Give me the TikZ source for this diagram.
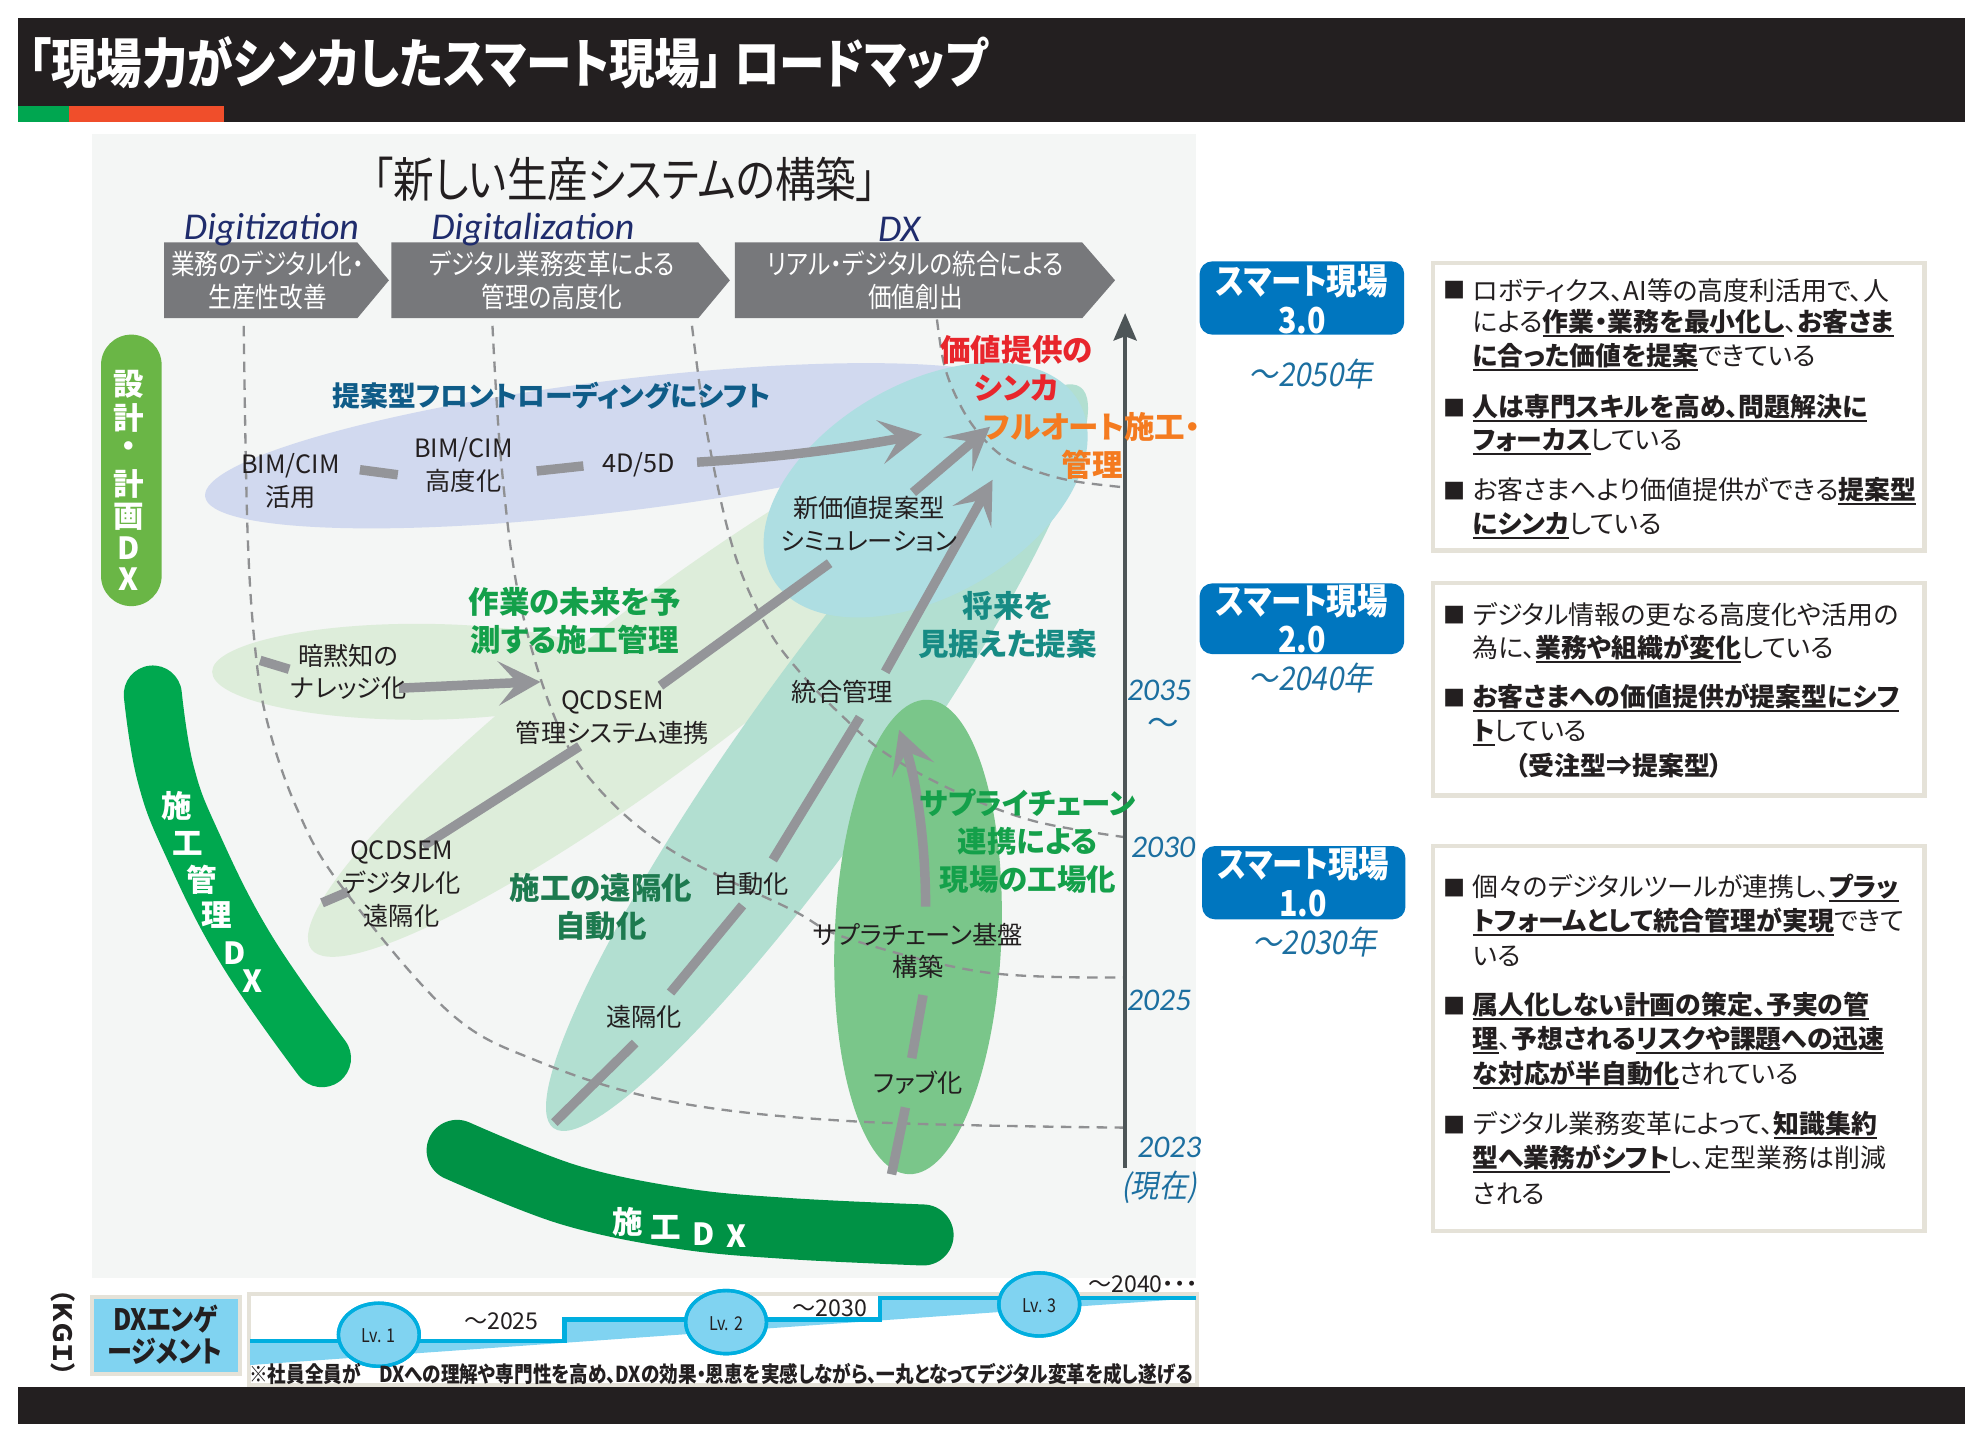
\documentclass[tikz,border=0pt]{standalone}
\usepackage{fontspec}
\setmainfont{Noto Sans CJK JP}[RawFeature={+palt}]
\newfontfamily\jpc{Noto Sans CJK JP}[FakeStretch=0.85,RawFeature={+palt}]
\newfontfamily\jpit{Noto Sans CJK JP}[FakeSlant=0.18,FakeStretch=0.9,RawFeature={+palt}]
\newfontfamily\carl{Carlito}
\usetikzlibrary{arrows.meta}
\definecolor{ink}{HTML}{231F20}
\definecolor{hgreen}{HTML}{00A650}
\definecolor{horange}{HTML}{F04E2B}
\definecolor{panel}{HTML}{F4F6F5}
\definecolor{chev}{HTML}{77787B}
\definecolor{navy}{HTML}{1F2C6C}
\definecolor{dashc}{HTML}{8F9092}
\definecolor{agray}{HTML}{949599}
\definecolor{elblue}{HTML}{D1D9EF}
\definecolor{elteal}{HTML}{AEDEE2}
\definecolor{elmint}{HTML}{B2DFD1}
\definecolor{ellg}{HTML}{DDEDDA}
\definecolor{eldg}{HTML}{7AC68A}
\definecolor{gA}{HTML}{6AB646}
\definecolor{gB}{HTML}{00A84F}
\definecolor{gC}{HTML}{009245}
\definecolor{lblue}{HTML}{0F5C88}
\definecolor{lred}{HTML}{E8262C}
\definecolor{lorange}{HTML}{F47B20}
\definecolor{lgreen}{HTML}{14A04A}
\definecolor{lteal}{HTML}{178B84}
\definecolor{ldg}{HTML}{1D7A4F}
\definecolor{yblue}{HTML}{1C6FA0}
\definecolor{sblue}{HTML}{0076BF}
\definecolor{beige}{HTML}{E5E2D8}
\definecolor{cyanA}{HTML}{00AEDF}
\definecolor{cyanB}{HTML}{80D3F1}
\definecolor{axisc}{HTML}{4D5557}
\newcommand\myul[1]{\sbox0{#1}\rlap{\usebox0}\rule[-2.6pt]{\wd0}{0.9pt}}
\newcommand\BU[1]{\myul{\bfseries #1}}
\tikzset{
  lbl/.style={font=\fontsize{12}{15.6}\selectfont, text=ink, align=center, inner sep=0pt},
  clbl/.style={font=\fontsize{14.5}{18}\selectfont\bfseries, align=center, inner sep=0pt},
  boxtxt/.style={font=\jpc\fontsize{13.2}{15.6}\selectfont, text=white, align=center, inner sep=0pt},
  digi/.style={font=\carl\itshape\fontsize{18}{20}\selectfont, text=navy, inner sep=0pt},
  yr/.style={font=\carl\itshape\fontsize{15}{17}\selectfont, text=yblue, inner sep=0pt},
  yrj/.style={font=\jpit\fontsize{15}{17}\selectfont, text=yblue, inner sep=0pt},
  rt/.style={anchor=west, inner sep=0pt, font=\fontsize{12.3}{14}\selectfont, text=ink},
  bul/.style={anchor=west, inner sep=0pt, font=\fontsize{10.5}{12}\selectfont, text=ink},
  wch/.style={font=\fontsize{14.5}{15}\selectfont\bfseries, text=white, inner sep=0pt},
  dcurve/.style={draw=dashc, line width=1.1pt, dash pattern=on 5pt off 3.5pt},
  gseg/.style={draw=agray, line width=4.5pt},
  garrow/.style={draw=agray, line width=4.5pt, -{Stealth[length=20pt,width=21pt,inset=9pt]}},
  smart/.style={fill=sblue, rounded corners=6pt},
  smtxt/.style={font=\jpc\bfseries\fontsize{17}{18.5}\selectfont, text=white, align=center, inner sep=0pt},
  tbox/.style={draw=beige, line width=2pt, fill=white},
  lv/.style={fill=cyanB, draw=cyanA, line width=1.6pt},
  lvt/.style={font=\jpc\fontsize{9}{10}\selectfont, text=ink, inner sep=0pt},
  tilde/.style={font=\fontsize{11}{12}\selectfont, text=ink, inner sep=0pt}
}
\begin{document}
\begin{tikzpicture}[x=0.6pt,y=-0.6pt]
\useasboundingbox (0,0) rectangle (1568,1134);
\fill[white] (0,0) rectangle (1568,1134);
% header
\fill[ink] (14,14) rectangle (1556,97);
\fill[hgreen] (14,84) rectangle (55,97);
\fill[horange] (55,84) rectangle (177,97);
\node[anchor=west, inner sep=0pt, text=white, font=\jpc\bfseries\fontsize{25.5}{28}\selectfont] (title) at (22,50) {「現場力がシンカしたスマート現場」 ロードマップ};
% panel
\fill[panel] (73,106) rectangle (947,1012);
\node[font=\jpc\fontsize{22.7}{25}\selectfont, text=ink, inner sep=0pt] (ptitle) at (495,142) {「新しい生産システムの構築」};
% ellipses
\fill[elblue, rotate around={7:(490,353)}] (490,353) ellipse [x radius=330, y radius=52];
\fill[ellg, rotate around={37:(530,538)}] (530,538) ellipse [x radius=355, y radius=64];
\fill[ellg] (330,532) ellipse [x radius=162, y radius=38];
\fill[elmint, rotate around={54.6:(647,600)}] (647,600) ellipse [x radius=360, y radius=62];
\fill[elteal, rotate around={30:(733,388)}] (733,388) ellipse [x radius=140, y radius=84];
\fill[eldg, rotate around={-2.3:(727,742)}] (727,742) ellipse [x radius=66, y radius=188];
% chevrons
\fill[chev] (130,192) -- (283,192) -- (308,222) -- (283,252) -- (130,252) -- cycle;
\fill[chev] (310,192) -- (553,192) -- (578,222) -- (553,252) -- (310,252) -- cycle;
\fill[chev] (582,192) -- (857,192) -- (883,222) -- (857,252) -- (582,252) -- cycle;
\node[boxtxt] (b1) at (212,222) {業務のデジタル化・\\生産性改善};
\node[boxtxt] (b2) at (437,222) {デジタル業務変革による\\管理の高度化};
\node[boxtxt] (b3) at (725,222) {リアル・デジタルの統合による\\価値創出};
\node[digi] (d1) at (215,182) {Digitization};
\node[digi] (d2) at (422,182) {Digitalization};
\node[digi] (d3) at (712,182) {DX};
% dashed curves
\draw[dcurve] plot[smooth, tension=0.6] coordinates {(193,258) (196,420) (202,513) (212,573) (235,640) (269,700) (354,800) (425,840) (530,872) (676,888) (891,893)};
\draw[dcurve] plot[smooth, tension=0.6] coordinates {(390,258) (397,367) (411,473) (438,565) (470,620) (531,673) (626,720) (671,743) (780,770) (891,774)};
\draw[dcurve] plot[smooth, tension=0.6] coordinates {(548,258) (560,343) (581,436) (607,496) (634,533) (668,568) (702,597) (755,626) (818,650) (891,663)};
\draw[dcurve] plot[smooth, tension=0.6] coordinates {(742,253) (748,290) (760,320) (775,343) (795,362) (820,373) (850,381) (891,386)};
% axis
\coordinate (ax0) at (891,925);
\coordinate (ax1) at (891,248);
\draw[axisc, line width=1.6pt, -{Stealth[length=13pt,width=11pt,inset=2pt]}] (ax0) -- (ax1);
\node[yr] (y35) at (918,547) {2035};
\node[font=\fontsize{15}{16}\selectfont, text=yblue, inner sep=0pt] (ytl) at (921,575) {～};
\node[yr] (y30) at (921,671) {2030};
\node[yr] (y25) at (918,792) {2025};
\node[yr] (y23) at (926,909) {2023};
\node[yrj] (ynow) at (918,940) {(現在)};
% left green bands
\fill[gA, rounded corners=24*0.6pt] (80,265) rectangle (128,480);
\foreach \c/\y [count=\i] in {設/304,計/331,・/356,計/383,画/409,D/434,X/459}{
  \node[wch] (sk\i) at (102,\y) {\c};
}
\draw[gB, line width=27.6pt, line cap=round] plot[smooth, tension=0.7] coordinates {(121,550) (131,612) (152,668) (195,752) (255,838)};
\foreach \c/\x/\y [count=\i] in {施/140/638,工/149/668,管/160/697,理/172/725,D/186/755,X/200/777}{
  \node[wch] (sm\i) at (\x,\y) {\c};
}
\draw[gC, line width=29pt, line cap=round] plot[smooth, tension=0.6] coordinates {(362,911) (450,946) (540,965) (626,973) (731,978)};
\foreach \c/\x/\y [count=\i] in {施/497/968,工/527/972,D/557/977,X/583/979}{
  \node[wch] (sc\i) at (\x,\y) {\c};
}
% gray arrows
\draw[gseg] (285,372) -- (315,376);
\draw[gseg] (425,373) -- (462,369);
\draw[garrow] (552,366) .. controls (620,362) and (670,355) .. (730,344);
\draw[garrow] (723,390) -- (784,338);
\draw[garrow] (701,532) -- (786,380);
\draw[gseg] (206,523) -- (229,530);
\draw[garrow] (316,545) .. controls (360,543) and (400,541) .. (428,540);
\draw[gseg] (255,715) -- (276,706);
\draw[gseg] (335,670) -- (459,591);
\draw[gseg] (523,543) -- (657,446);
\draw[gseg] (439,889) -- (503,826);
\draw[gseg] (531,786) -- (588,717);
\draw[gseg] (612,681) -- (681,568);
\draw[gseg] (706,930) -- (717,877);
\draw[gseg] (722,838) -- (731,788);
\draw[garrow] (733,718) .. controls (733,660) and (724,612) .. (712,578);
% dark labels
\node[lbl] (t1) at (230,381) {BIM/CIM\\活用};
\node[lbl] (t2) at (367,368) {BIM/CIM\\高度化};
\node[lbl] (t3) at (506,368) {4D/5D};
\node[lbl] (t4) at (688,415) {新価値提案型\\シミュレーション};
\node[lbl] (t5) at (276,532) {暗黙知の\\ナレッジ化};
\node[lbl] (t6) at (485,568) {QCDSEM\\管理システム連携};
\node[lbl] (t7) at (667,548) {統合管理};
\node[lbl] (t8) at (318,700) {QCDSEM\\デジタル化\\遠隔化};
\node[lbl] (t9) at (595,700) {自動化};
\node[lbl] (t10) at (727,753) {サプラチェーン基盤\\構築};
\node[lbl] (t11) at (510,805) {遠隔化};
\node[lbl] (t12) at (727,857) {ファブ化};
% colored labels
\node[clbl, text=lblue, font=\fontsize{13.2}{16}\selectfont\bfseries] (c1) at (437,313) {提案型フロントローディングにシフト};
\node[clbl, text=lred] (c2) at (805,292) {価値提供の\\シンカ};
\node[clbl, text=lorange] (c3) at (865,353) {フルオート施工・\\管理};
\node[clbl, text=lgreen] (c4) at (455,492) {作業の未来を予\\測する施工管理};
\node[clbl, text=lteal] (c5) at (798,495) {将来を\\見据えた提案};
\node[clbl, text=ldg] (c6) at (476,718) {施工の遠隔化\\自動化};
\node[clbl, text=lgreen, font=\fontsize{14}{18}\selectfont\bfseries] (c7) at (814,666) {サプライチェーン\\連携による\\現場の工場化};
% smart boxes
\fill[smart] (950,207) rectangle (1112,265);
\node[smtxt] (s3) at (1031,237) {スマート現場\\3.0};
\node[yrj, font=\jpit\fontsize{15.5}{17}\selectfont] (s3y) at (1038,296) {～2050年};
\fill[smart] (950,462) rectangle (1112,518);
\node[smtxt] (s2) at (1031,490) {スマート現場\\2.0};
\node[yrj, font=\jpit\fontsize{15.5}{17}\selectfont] (s2y) at (1038,537) {～2040年};
\fill[smart] (952,670) rectangle (1113,728);
\node[smtxt] (s1) at (1032,699) {スマート現場\\1.0};
\node[yrj, font=\jpit\fontsize{15.5}{17}\selectfont] (s1y) at (1041,746) {～2030年};
% text boxes
\draw[tbox] (1135,208) rectangle (1524,436);
\node[bul] (p31) at (1143,230) {■};
\node[rt] (r31) at (1166,230) {ロボティクス、AI等の高度利活用で、人};
\node[rt] (r32) at (1166,256) {による\BU{作業・業務を最小化し}、\BU{お客さま}};
\node[rt] (r33) at (1166,283) {\BU{に合った価値を提案}できている};
\node[bul] (p32) at (1143,323) {■};
\node[rt] (r34) at (1166,323) {\BU{人は専門スキルを高め、問題解決に}};
\node[rt] (r35) at (1166,350) {\BU{フォーカス}している};
\node[bul] (p33) at (1143,389) {■};
\node[rt] (r36) at (1166,389) {お客さまへより価値提供ができる\BU{提案型}};
\node[rt] (r37) at (1166,416) {\BU{にシンカ}している};
\draw[tbox] (1135,462) rectangle (1524,630);
\node[bul] (p21) at (1143,487) {■};
\node[rt] (r21) at (1166,487) {デジタル情報の更なる高度化や活用の};
\node[rt] (r22) at (1166,514) {為に、\BU{業務や組織が変化}している};
\node[bul] (p22) at (1143,553) {■};
\node[rt] (r23) at (1166,553) {\BU{お客さまへの価値提供が提案型にシフ}};
\node[rt] (r24) at (1166,580) {\BU{ト}している};
\node[rt] (r25) at (1200,606) {\bfseries （受注型⇒提案型）};
\draw[tbox] (1135,670) rectangle (1524,975);
\node[bul] (p11) at (1143,703) {■};
\node[rt] (r11) at (1166,703) {個々のデジタルツールが連携し、\BU{プラッ}};
\node[rt] (r12) at (1166,730) {\BU{トフォームとして統合管理が実現}できて};
\node[rt] (r13) at (1166,757) {いる};
\node[bul] (p12) at (1143,797) {■};
\node[rt] (r14) at (1166,797) {\BU{属人化しない計画の策定、予実の管}};
\node[rt] (r15) at (1166,824) {\BU{理}、{\bfseries 予想される}\BU{リスクや課題への迅速}};
\node[rt] (r16) at (1166,851) {\BU{な対応が半自動化}されている};
\node[bul] (p13) at (1143,891) {■};
\node[rt] (r17) at (1166,891) {デジタル業務変革によって、\BU{知識集約}};
\node[rt] (r18) at (1166,918) {\BU{型へ業務がシフト}し、定型業務は削減};
\node[rt] (r19) at (1166,945) {される};
% bottom strip
\node[rotate=-90, font=\bfseries\fontsize{12}{13}\selectfont, text=ink, inner sep=0pt] (kgi) at (50,1055) {（ＫＧＩ）};
\draw[fill=cyanB, draw=beige, line width=2pt] (73,1027) rectangle (190,1088);
\node[font=\jpc\bfseries\fontsize{14}{15.5}\selectfont, text=ink, align=center, inner sep=0pt] (dxe) at (131,1057) {DXエンゲ\\ージメント};
\draw[tbox] (197,1025) rectangle (948,1097);
\fill[cyanB] (198,1062) -- (447,1062) -- (447,1045) -- (697,1045) -- (697,1028) -- (947,1028) -- (198,1081) -- cycle;
\draw[cyanA, line width=2.2pt] (198,1062) -- (447,1062) -- (447,1045) -- (697,1045) -- (697,1028) -- (947,1028);
\fill[lv] (300,1057) ellipse [x radius=32, y radius=25];
\draw[lv, fill=none] (300,1057) ellipse [x radius=32, y radius=25];
\node[lvt] (lv1) at (300,1058) {Lv. 1};
\fill[lv] (575,1047) ellipse [x radius=32, y radius=25];
\draw[lv, fill=none] (575,1047) ellipse [x radius=32, y radius=25];
\node[lvt] (lv2) at (575,1048) {Lv. 2};
\fill[lv] (823,1033) ellipse [x radius=32, y radius=25];
\draw[lv, fill=none] (823,1033) ellipse [x radius=32, y radius=25];
\node[lvt] (lv3) at (823,1034) {Lv. 3};
\node[tilde] (k1) at (397,1046) {～2025};
\node[tilde] (k2) at (657,1036) {～2030};
\node[tilde] (k3) at (905,1017) {～2040・・・};
\node[font=\jpc\bfseries\fontsize{10.4}{11}\selectfont, text=ink, inner sep=0pt] (note) at (571,1088) {※社員全員が　DXへの理解や専門性を高め、DXの効果・恩恵を実感しながら、一丸となってデジタル変革を成し遂げる};
\fill[ink] (14,1098) rectangle (1556,1128);
\end{tikzpicture}
\end{document}
